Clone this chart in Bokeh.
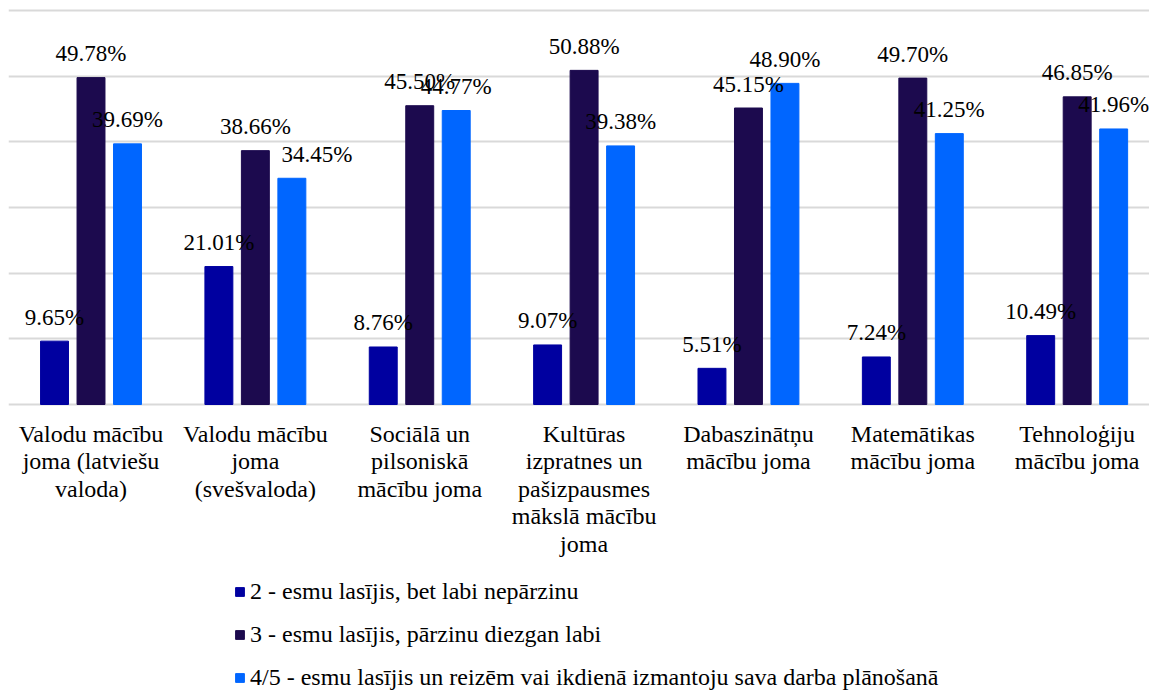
from bokeh.plotting import figure
from bokeh.models import (ColumnDataSource, Range1d, FixedTicker, LabelSet, Legend, LegendItem)
from bokeh.core.properties import value
from bokeh.transform import dodge
from bokeh.embed import file_html
from bokeh.resources import INLINE

categories = [
    "Valodu mācību\njoma (latviešu\nvaloda)",
    "Valodu mācību\njoma\n(svešvaloda)",
    "Sociālā un\npilsoniskā\nmācību joma",
    "Kultūras\nizpratnes un\npašizpausmes\nmākslā mācību\njoma",
    "Dabaszinātņu\nmācību joma",
    "Matemātikas\nmācību joma",
    "Tehnoloģiju\nmācību joma",
]
series_names = [
    "2 - esmu lasījis, bet labi nepārzinu",
    "3 - esmu lasījis, pārzinu diezgan labi",
    "4/5 - esmu lasījis un reizēm vai ikdienā izmantoju sava darba plānošanā",
]
s1 = [9.65, 21.01, 8.76, 9.07, 5.51, 7.24, 10.49]
s2 = [49.78, 38.66, 45.50, 50.88, 45.15, 49.70, 46.85]
s3 = [39.69, 34.45, 44.77, 39.38, 48.90, 41.25, 41.96]
colors = ["#0000A0", "#1C0A4E", "#0066FF"]

FONT = "Liberation Serif"
FS = "24px"
FS_LABEL = "23px"
# manual nudges of data labels (px), as in the source chart
s3_label_nudge = [0, 25, 0, 0, 0, 0, 0]

x = list(range(len(categories)))
src = ColumnDataSource(dict(
    x=x, s1=s1, s2=s2, s3=s3,
    l1=[f"{v:.2f}%" for v in s1],
    l2=[f"{v:.2f}%" for v in s2],
    l3=[f"{v:.2f}%" for v in s3],
    n0=[0] * len(x), n3=s3_label_nudge,
))

# frame covers the whole canvas; the bar area is y in [0, 60]
p = figure(width=1149, height=691, output_backend="svg", toolbar_location=None,
           x_range=Range1d(-0.502, 6.44), y_range=Range1d(-43.7, 61.52),
           min_border_left=8, min_border_right=0, min_border_top=0, min_border_bottom=0)
p.outline_line_color = None
p.background_fill_color = "white"
p.border_fill_color = "white"
p.xaxis.visible = False
p.yaxis.visible = False
p.xgrid.grid_line_color = None
p.ygrid.ticker = FixedTicker(ticks=[0, 10, 20, 30, 40, 50, 60])
p.ygrid.grid_line_color = "#d9d9d9"
p.ygrid.grid_line_width = 2

w = 0.170
off = 0.222
renderers = []
for i, (col, lab, nud) in enumerate([("s1", "l1", "n0"), ("s2", "l2", "n0"), ("s3", "l3", "n3")]):
    d = (i - 1) * off
    r = p.vbar(x=dodge("x", d), top=col, bottom=0, width=w, source=src,
               fill_color=colors[i], line_color=colors[i])
    renderers.append(r)
    ls = LabelSet(x=dodge("x", d), y=col, text=lab, source=src, text_align="center",
                  text_baseline="alphabetic", x_offset=nud, y_offset=16.5,
                  text_font=value(FONT), text_font_size=FS_LABEL, text_color="black")
    p.add_layout(ls)

# category labels, one row per wrapped line
cx, cy, ctext, coff = [], [], [], []
for i, c in enumerate(categories):
    for k, line in enumerate(c.split("\n")):
        cx.append(i)
        cy.append(0)
        ctext.append(line)
        coff.append(29 + 27.6 * k)
csrc = ColumnDataSource(dict(x=cx, y=cy, text=ctext, off=coff))
p.text(x="x", y="y", text="text", y_offset="off", source=csrc, text_align="center",
       text_baseline="middle", text_font=value(FONT), text_font_size=FS, text_color="black")

legend = Legend(items=[LegendItem(label=series_names[i], renderers=[renderers[i]]) for i in range(3)],
                location=(226, 0), orientation="vertical")
legend.label_text_font = FONT
legend.label_text_font_size = FS
legend.label_text_color = "black"
legend.glyph_width = 11
legend.glyph_height = 11
legend.label_standoff = 5
legend.spacing = 16
legend.label_height = 26
legend.padding = 0
legend.margin = 0
legend.border_line_color = None
legend.background_fill_alpha = 0
p.add_layout(legend)

open("out.html", "w").write(file_html(p, INLINE))
